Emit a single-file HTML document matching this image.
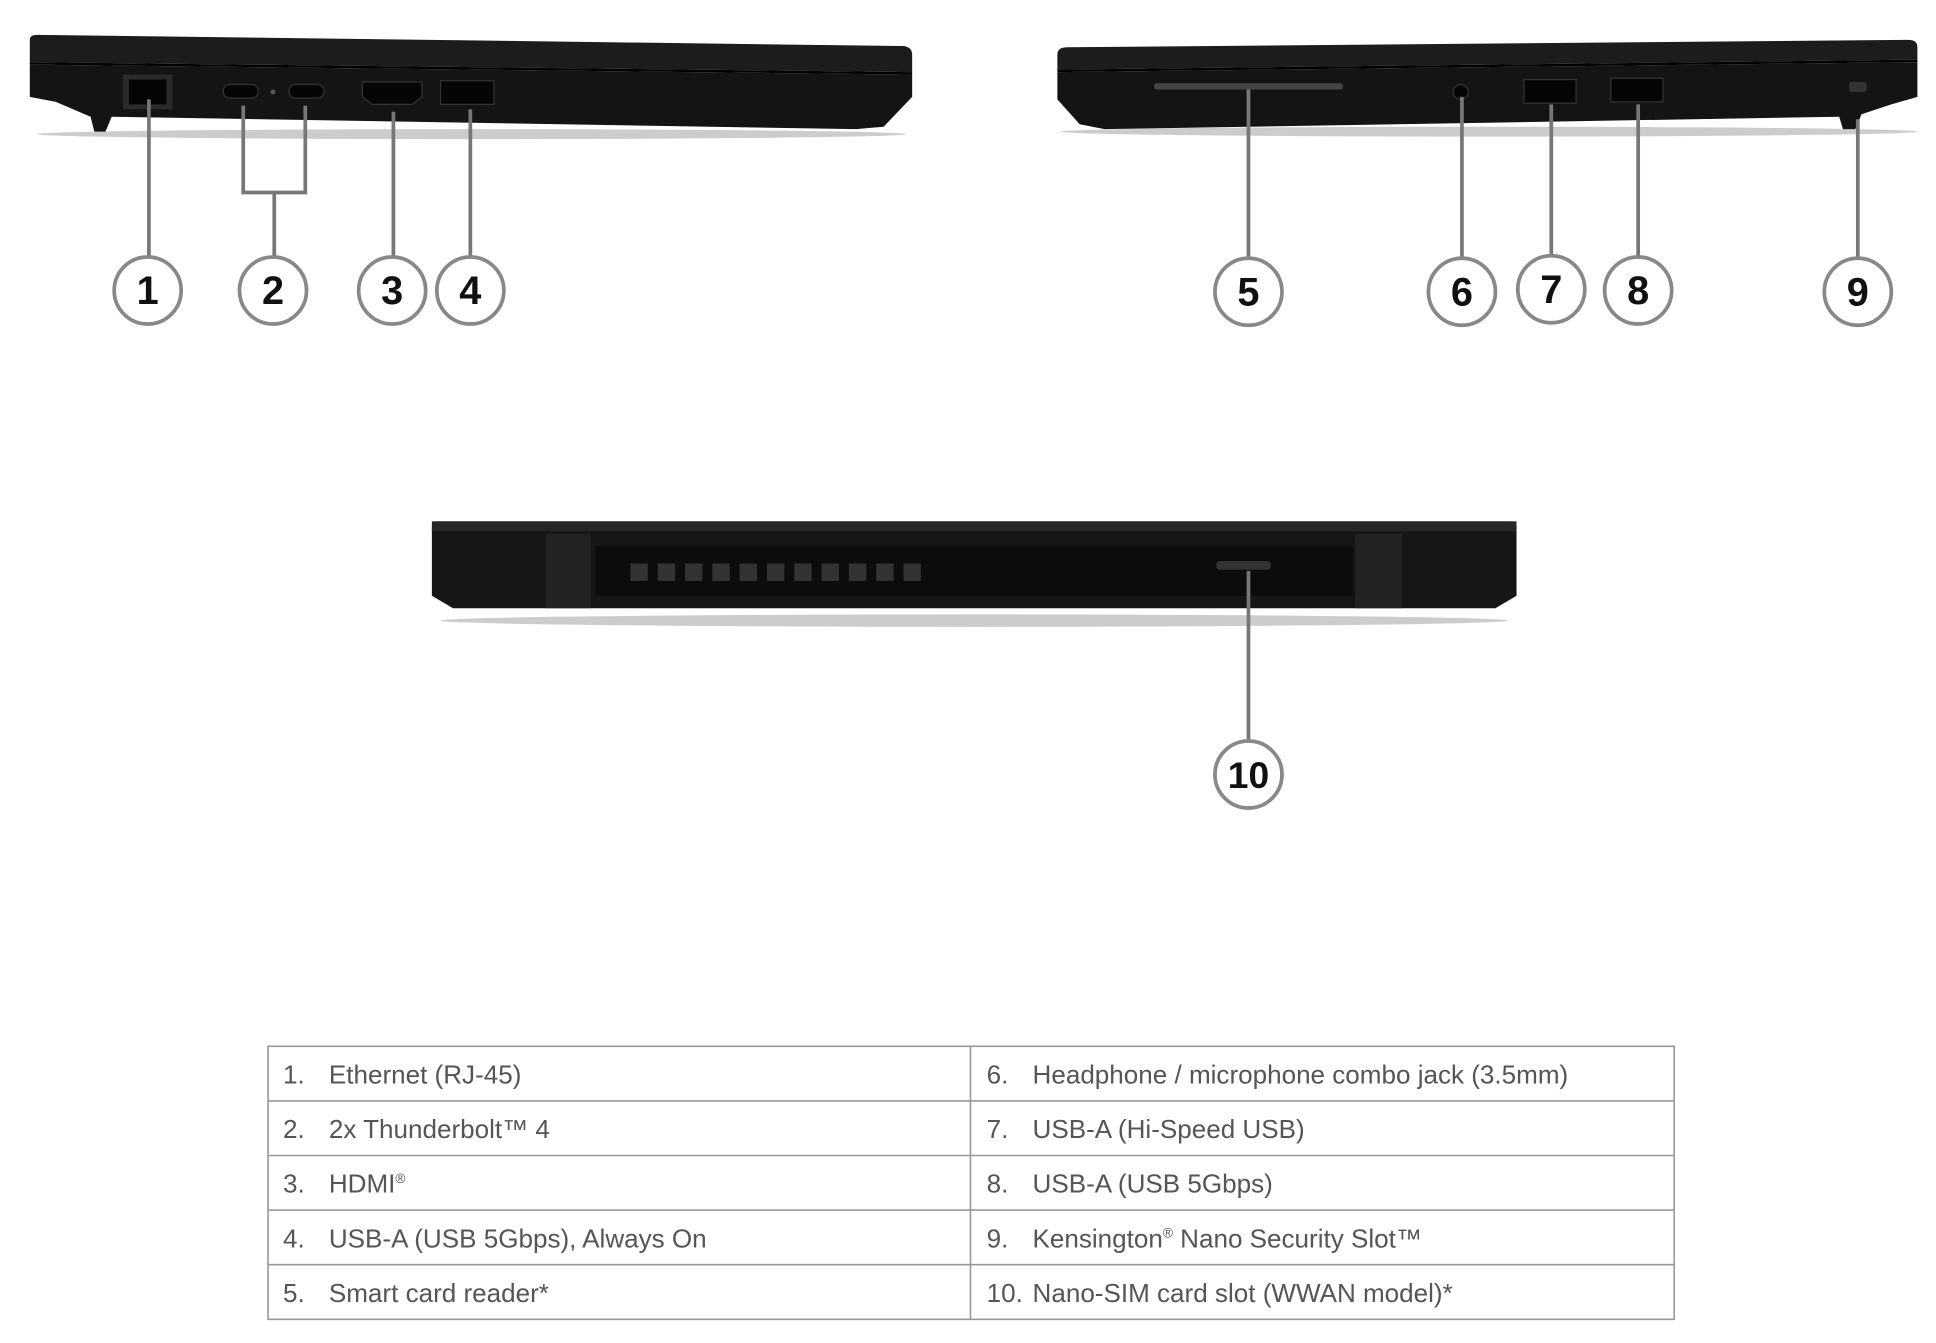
<!DOCTYPE html>
<html><head><meta charset="utf-8"><style>
html,body{margin:0;padding:0;background:#fff;width:1936px;height:1343px;overflow:hidden}
svg{display:block}
text{font-family:"Liberation Sans",sans-serif}
</style></head><body>
<svg width="1936" height="1343" viewBox="0 0 1560 1082" xmlns="http://www.w3.org/2000/svg">
<!-- Left laptop -->
<ellipse cx="380" cy="108" rx="350" ry="4" fill="#ccc"/>
<path d="M24,32 Q24,28 30,28 L728,37 Q735,38 735,44 L735,58 L24,50 Z" fill="#1c1c1c"/>
<path d="M24,52 L735,60 L735,78 L712,102 L690,104 L90,94 L85,106 L76,106 L73,94 L45,82 L24,78 Z" fill="#141414"/>
<line x1="24" y1="51" x2="735" y2="59" stroke="#000" stroke-width="2"/>
<rect x="99" y="60" width="40" height="28" fill="#2a2a2a"/>
<rect x="104" y="64" width="30" height="20" fill="#050505"/>
<rect x="180" y="68" width="28" height="11" rx="5" fill="#050505" stroke="#333"/>
<circle cx="220" cy="74" r="2" fill="#555"/>
<rect x="233" y="68" width="28" height="11" rx="5" fill="#050505" stroke="#333"/>
<path d="M292,66 L340,66 L340,78 L332,84 L300,84 L292,78 Z" fill="#050505" stroke="#333"/>
<rect x="355" y="65" width="43" height="19" fill="#050505" stroke="#333"/>
<!-- Right laptop -->
<ellipse cx="1200" cy="106" rx="345" ry="4" fill="#ccc"/>
<path d="M860,38 L1538,32 Q1545,32 1545,38 L1545,48 L852,56 L852,44 Q852,38 860,38 Z" fill="#1c1c1c"/>
<path d="M852,58 L1545,50 L1545,78 L1524,84 L1500,92 L1495,104 L1485,104 L1482,94 L890,104 L870,100 L852,80 Z" fill="#141414"/>
<line x1="852" y1="57" x2="1545" y2="49" stroke="#000" stroke-width="2"/>
<rect x="930" y="67" width="152" height="5" rx="2" fill="#444"/>
<circle cx="1177" cy="74" r="6" fill="#050505" stroke="#333"/>
<rect x="1228" y="64" width="42" height="19" fill="#050505" stroke="#333"/>
<rect x="1298" y="63" width="42" height="19" fill="#050505" stroke="#333"/>
<rect x="1490" y="66" width="14" height="8" rx="2" fill="#333"/>
<!-- Bottom laptop -->
<ellipse cx="785" cy="500" rx="430" ry="5" fill="#ccc"/>
<path d="M352,420 L1218,420 Q1222,420 1222,426 L1222,480 L1205,490 L365,490 L348,480 L348,426 Q348,420 352,420 Z" fill="#161616"/>
<rect x="348" y="420" width="874" height="8" fill="#262626"/>
<rect x="440" y="430" width="36" height="60" fill="#222"/>
<rect x="1092" y="430" width="38" height="60" fill="#222"/>
<rect x="480" y="440" width="610" height="40" fill="#0c0c0c"/>
<g fill="#333">
<rect x="508" y="454" width="14" height="14"/><rect x="530" y="454" width="14" height="14"/><rect x="552" y="454" width="14" height="14"/><rect x="574" y="454" width="14" height="14"/><rect x="596" y="454" width="14" height="14"/><rect x="618" y="454" width="14" height="14"/><rect x="640" y="454" width="14" height="14"/><rect x="662" y="454" width="14" height="14"/><rect x="684" y="454" width="14" height="14"/><rect x="706" y="454" width="14" height="14"/><rect x="728" y="454" width="14" height="14"/>
</g>
<rect x="980" y="452" width="44" height="7" rx="3" fill="#333"/>
<!-- connectors -->
<g stroke="#777" stroke-width="3" fill="none">
<line x1="120" y1="80" x2="120" y2="207"/>
<polyline points="196,85 196,155 246,155 246,85"/>
<line x1="221" y1="155" x2="221" y2="207"/>
<line x1="317" y1="90" x2="317" y2="207"/>
<line x1="379" y1="88" x2="379" y2="207"/>
<line x1="1006" y1="72" x2="1006" y2="208"/>
<line x1="1178" y1="78" x2="1178" y2="208"/>
<line x1="1250" y1="84" x2="1250" y2="206"/>
<line x1="1320" y1="84" x2="1320" y2="207"/>
<line x1="1497" y1="96" x2="1497" y2="208"/>
<line x1="1006" y1="460" x2="1006" y2="597"/>
</g>
<g stroke="#888" stroke-width="3" fill="#fff">
<circle cx="119" cy="234" r="27"/><circle cx="220" cy="234" r="27"/><circle cx="316" cy="234" r="27"/><circle cx="379" cy="234" r="27"/>
<circle cx="1006" cy="235" r="27"/><circle cx="1178" cy="235" r="27"/><circle cx="1250" cy="233" r="27"/><circle cx="1320" cy="234" r="27"/><circle cx="1497" cy="235" r="27"/><circle cx="1006" cy="624" r="27"/>
</g>
<g font-size="32" font-weight="bold" fill="#111" text-anchor="middle">
<text x="119" y="245">1</text><text x="220" y="245">2</text><text x="316" y="245">3</text><text x="379" y="245">4</text>
<text x="1006" y="246">5</text><text x="1178" y="246">6</text><text x="1250" y="244">7</text><text x="1320" y="245">8</text><text x="1497" y="246">9</text><text x="1006" y="635" font-size="30">10</text>
</g>
<!-- table -->
<g stroke="#999" stroke-width="1.3" fill="none">
<rect x="216" y="843" width="1133" height="220"/>
<line x1="782" y1="843" x2="782" y2="1063"/>
<line x1="216" y1="887" x2="1349" y2="887"/>
<line x1="216" y1="931" x2="1349" y2="931"/>
<line x1="216" y1="975" x2="1349" y2="975"/>
<line x1="216" y1="1019" x2="1349" y2="1019"/>
</g>
<g font-size="21" fill="#555">
<text x="228" y="873">1.</text><text x="265" y="873">Ethernet (RJ-45)</text>
<text x="228" y="917">2.</text><text x="265" y="917">2x Thunderbolt™ 4</text>
<text x="228" y="961">3.</text><text x="265" y="961">HDMI<tspan font-size="11" dy="-8">®</tspan></text>
<text x="228" y="1005">4.</text><text x="265" y="1005">USB-A (USB 5Gbps), Always On</text>
<text x="228" y="1049">5.</text><text x="265" y="1049">Smart card reader*</text>
<text x="795" y="873">6.</text><text x="832" y="873">Headphone / microphone combo jack (3.5mm)</text>
<text x="795" y="917">7.</text><text x="832" y="917">USB-A (Hi-Speed USB)</text>
<text x="795" y="961">8.</text><text x="832" y="961">USB-A (USB 5Gbps)</text>
<text x="795" y="1005">9.</text><text x="832" y="1005">Kensington<tspan font-size="11" dy="-8">®</tspan><tspan dy="8"> Nano Security Slot™</tspan></text>
<text x="795" y="1049">10.</text><text x="832" y="1049">Nano-SIM card slot (WWAN model)*</text>
</g>
</svg>
</body></html>
